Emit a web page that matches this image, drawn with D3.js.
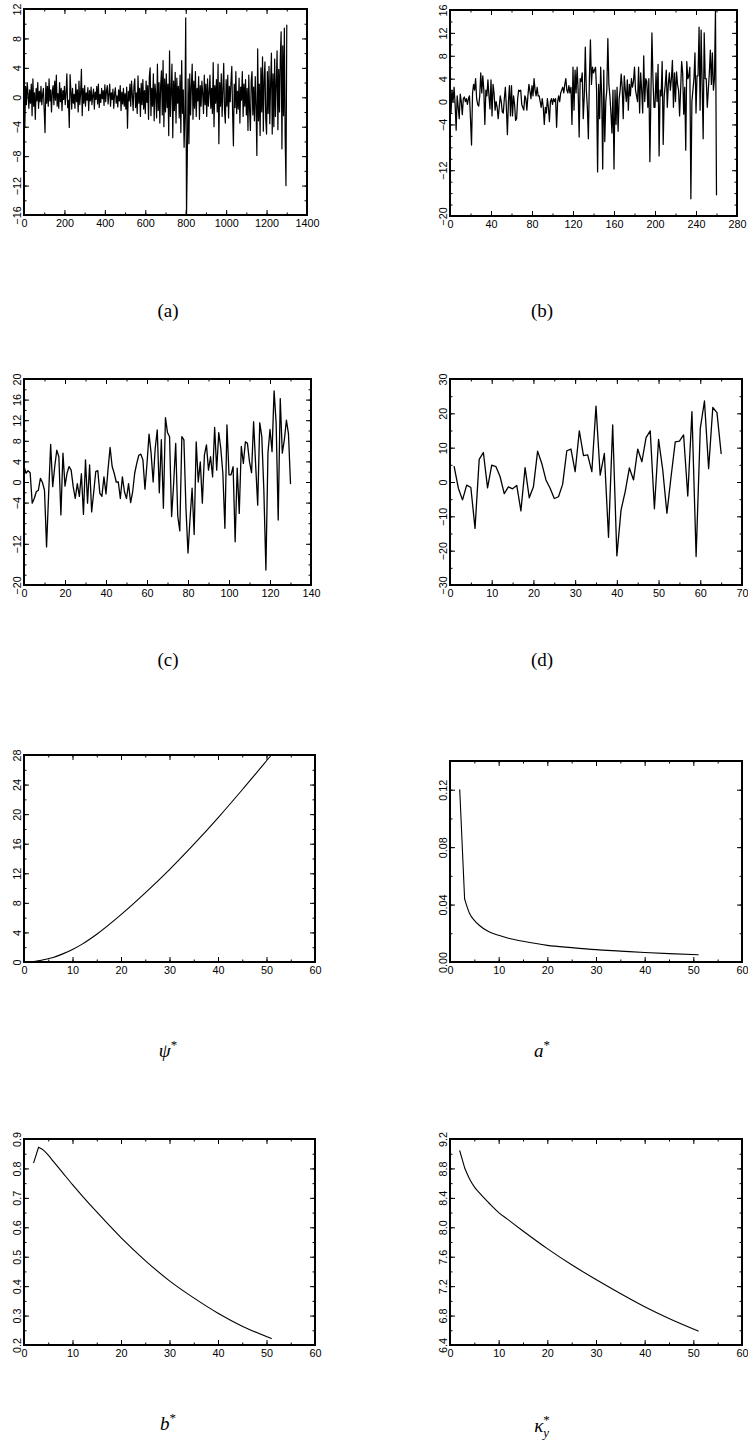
<!DOCTYPE html>
<html>
<head>
<meta charset="utf-8">
<script src="https://cdn.jsdelivr.net/npm/d3@7"></script>
<style>
  html, body { margin: 0; padding: 0; background: #fff; }
  svg { display: block; }
</style>
</head>
<body>
<script>
// ---------------- DATA ----------------
// (a) daily series, one value every 4 steps (x = 0, 4, 8, ... 1300)
const seriesA = [
  2.8,-4,1.5,-1,2,0.5,-1.5,1,-0.8,1.8,-2.5,2.5,-1.2,0.6,-3,1.2,-0.5,2,-1.5,0.8,-0.6,1.5,-1,0.4,1.2,
  -1.8,-4.8,2,-0.8,1.5,-1.2,2.5,-0.5,1,-2,0.8,1.6,-1,2.2,-0.4,3,-1.2,0.5,-1.5,2,-0.6,1.2,-1.8,0.9,-0.3,
  1.5,-1,0.6,3.2,-1.4,-0.4,-4.1,3.1,0.8,-1.6,1.2,-0.8,0.4,-1.5,1.8,-0.6,1,-2,2.2,-1,0.5,3.8,-2.5,1.2,-0.8,
  1.6,-1.2,0.6,-0.4,1.3,-1.8,0.9,-0.5,1.4,-1,0.3,1.1,-1.6,0.7,-0.3,1.5,-0.9,1.8,-1.4,0.4,-0.7,1.2,-0.2,0.9,-1.1,
  1.7,-0.6,0.8,1.6,-0.9,0.4,1.8,-1.2,0.6,-0.3,1.1,-1.5,0.5,1.3,-0.8,0.2,-1.3,1,-0.5,1.6,-1.8,0.7,-0.9,1.2,-1.2,
  0.5,-1.6,1.4,-4.2,0.8,-0.5,1.8,-1.2,2.2,0.3,-1.8,1.5,2.5,-1.4,0.6,-2.2,2.9,-0.8,1.2,-2.6,1.9,-1,2.4,-1.6,0.9,
  -2.2,2.2,-0.7,1.6,-3,2.8,4,-2.5,1.2,-1.2,3.2,-3.2,1.8,0.4,-2.8,4.5,-1.8,2,-3.5,1.6,3.6,-2.4,5,-4,2.5,
  -2,3.2,-1.4,1.8,-5.2,6.3,-2.6,0.8,4.5,-5.5,2.2,-1.8,3.4,-3.5,2.6,-0.8,1.5,-2.8,3,-4.8,5,-2.2,1,-6.8,-2.5,
  10.8,-16,-8,2.5,-6.3,3.2,-2.4,1.5,4.5,-3,2.2,-1.5,3.5,-2.6,1.2,-0.5,2.8,-3,1.6,-1.2,2.2,0.5,-2.2,3,-1,
  1.8,-2.6,2.5,-1.2,0.6,3,-1.5,1.2,-2.2,4.7,-4,1.6,-0.8,2.4,-2,4.5,-6.3,2,-1.2,3.2,-2.6,1,4.6,-1.8,-3.5,
  2.4,-1.2,3,-2.8,1.5,-0.6,2.2,4.2,-2.2,-6.6,1.8,-1.4,3.5,-2.2,0.8,-1.6,2.6,-3.5,1.4,-0.4,3.5,-2.6,1.8,-1.2,2.4,
  -2.4,1.2,-4.5,3,-1.8,-4.5,2.2,3.5,-2.4,1.4,-3.2,2.8,-1.2,-7.9,6.6,-3.2,1.8,-5.2,4,-2,5.5,-4.6,2.4,4.8,-3,
  -5,3.5,-2.2,4.2,-3.6,2,6,-5,3.2,-4,5.2,-2.6,1.8,6.3,-4.4,3.8,-2,5.5,8.9,-7,7,-2.5,9.4,-5.5,-12,
  9.8
];
const stepA = 4;

// (b) weekly series, x = 0 .. 260
const seriesB = [
  5,-2,2,0,2.5,-0.5,-5,1,-1,-3,1.3,0,-2.3,0.5,0.8,0,0.5,-0.5,0.5,1,
  -3,-7.6,1.5,3,2,4,0.5,-0.5,-0.8,1,5,1.5,4.5,2,-4,2,1,3.8,1,-1.3,
  3.8,-2.5,3,1.5,-1.5,0,-1,-3,-1,1,0,-1.8,-2,0.5,2.5,-1,-5.8,0,2.8,-2.5,
  2.8,-2.5,1,-0.5,-3.3,-3,0.5,2,1.8,2,-0.5,-1,-1.5,1,0.5,-1.5,1,3,1.8,0.5,
  2.8,1,4,2,1,2.5,1,1,0,-1,0.5,-1,-4,-1,-2,0.5,-1,-3.5,0,0.5,
  -0.5,0.5,0,0.5,-4.5,0,1,0,1.5,2,2.5,1.5,3,4,2,1.5,2.8,1.5,2.5,-4,
  6,-1.5,5.5,1.5,6,2,-6.2,4,3.5,5,-3,1,9.5,2,-1,-6.5,4,10.8,3,6,
  5,5.5,6,2,-12.3,3,-3,6,1,-11.8,5.5,-7,0,2,11,3,1,-2,-5.5,2,
  -11.8,2,-4,2.5,-5.2,0.5,2,4.8,2.5,-3,4.5,2,0,3.8,-1.5,3,1,4,2.5,3.5,
  6,2,1,0,6,-2,5,2,-2,8,0,4,3.5,-1,4,-10.5,1,12,4,-1,
  -1,5,0,6.5,-9.5,2,1,7,-7.5,1,3,5.5,-1,3,5,2,4,7.2,-1,5,
  0,5.2,3,2,-2.5,2,7,5,-2.2,2.5,-8.5,7,4,4.5,6,-17,0,2,4,8.5,
  -2,4.5,4.5,13,-1.5,12.5,3,-6.5,12,4,4,-1,2,5,9,3,8.5,2,4,16,
  -16.3
];

// (c) series, x = 0 .. 130
const seriesC = [
  3.0,1.7,2.2,1.8,-4.1,-3.2,-1.9,-1.6,0.7,-0.1,-1.6,-12.6,-2.5,7.3,-0.9,3,6.2,4.9,-6.4,5.6,
  -0.8,1.7,3,2.3,-0.9,-3.2,-0.3,-2.8,1.6,-6.3,4.3,-4.1,3.3,-5.8,-2,2,2.2,-2.2,-2.8,1,
  -2.3,2.5,6.7,3,1.7,0,0,-3.2,1,-1.9,-3.2,-0.3,-4,-1.9,1.7,3.6,5.2,5.4,4.3,-1.4,
  3.6,9.3,5.6,0,6.5,10.1,-2.1,8.2,-5.1,12.5,9.6,8.8,-6.7,-0.3,7.5,-6.6,-9.5,8.8,8.2,-5.1,
  -13.8,-7.1,-1.2,-10.2,7.8,0,3.9,-4.1,5.2,7.2,2.3,4.9,1,10.6,2.3,9.6,6.5,1.7,-9,11.1,
  1.4,1.4,3,-11.6,2.7,-6.1,6.9,3.6,7.8,7.5,3.9,1.8,11.7,3.3,-4.5,11.5,8.8,-1.6,-17.1,5.6,
  10.2,5.9,17.7,11.4,-7.4,16.2,5.6,8.2,12,9.4,-0.3
];

// (d) series, x = 1 .. 65
const seriesD = [
  4.5,-1.8,-5.2,-0.9,-1.6,-13.5,6.6,8.6,-1.7,4.9,
  4.5,1.6,-3.4,-1.4,-2.0,-1.0,-8.4,4.2,-4.6,-1.4,
  9.0,5.4,0.6,-1.8,-4.8,-4.3,-0.7,9.1,9.6,3.0,
  14.9,7.7,7.9,3.0,22.1,2.0,8.3,-16.1,16.6,-21.5,
  -8.2,-2.8,4.1,0.6,9.6,5.9,12.9,14.9,-7.8,12.4,
  3.5,-9.1,1.6,11.7,11.9,13.7,-4.1,20.5,-21.7,15.6,
  23.6,3.9,21.7,20.2,8.3
];

// optimal paths (e)-(h), sampled at these horizons
const horizon   = [2,3,4,5,6,8,10,12,15,20,25,30,35,40,45,51];
const psiStar   = [0.06,0.17,0.3,0.45,0.62,1.1,1.7,2.42,3.75,6.4,9.35,12.5,15.9,19.5,23.3,28.0];
const aStar     = [0.120,0.044,0.034,0.029,0.0256,0.021,0.0186,0.0165,0.0144,0.0116,0.0100,0.0086,0.0076,0.0066,0.0058,0.0051];
const bStar     = [0.82,0.872,0.862,0.845,0.825,0.785,0.745,0.707,0.652,0.565,0.487,0.418,0.36,0.308,0.264,0.222];
const kappaStar = [9.04,8.81,8.66,8.55,8.47,8.33,8.2,8.1,7.95,7.71,7.49,7.29,7.1,6.92,6.76,6.59];

// tick labels
const ticksAx = [0,200,400,600,800,1000,1200,1400];
const ticksAy = [-16,-12,-8,-4,0,4,8,12];
const ticksBx = [0,40,80,120,160,200,240,280];
const ticksBy = [-20,-12,-4,0,4,8,12,16];
const ticksCx = [0,20,40,60,80,100,120,140];
const ticksCy = [-20,-12,-4,0,4,8,12,16,20];
const ticksDx = [0,10,20,30,40,50,60,70];
const ticksDy = [-30,-20,-10,0,10,20,30];
const ticksEx = [0,10,20,30,40,50,60];
const ticksPsi = [0,4,8,12,16,20,24,28];
const ticksA = [0,0.04,0.08,0.12];
const ticksB = [0.2,0.3,0.4,0.5,0.6,0.7,0.8,0.9];
const ticksK = [6.4,6.8,7.2,7.6,8.0,8.4,8.8,9.2];

// ---------------- LAYOUT ----------------
const W = 748, H = 1452;
const svg = d3.select("body").append("svg").attr("width", W).attr("height", H);
svg.append("rect").attr("width", W).attr("height", H).attr("fill", "#fff");

const panels = [
  { box:[24,307,9,215], xd:[0,1400], yd:[-16,12], xt:ticksAx, yt:ticksAy, xm:100, ym:2,
    xs:seriesA.map((v,i)=>i*stepA), ys:seriesA, fmt:d3.format("d"), cap:{x:168,y:317,plain:"(a)"}, sw:1.2 },
  { box:[450,737,10,216], xd:[0,280], yd:[-20,16], xt:ticksBx, yt:ticksBy, xm:20, ym:2,
    xs:seriesB.map((v,i)=>i), ys:seriesB, fmt:d3.format("d"), cap:{x:542,y:317,plain:"(b)"}, sw:1.25 },
  { box:[24,311,379,585], xd:[0,140], yd:[-20,20], xt:ticksCx, yt:ticksCy, xm:10, ym:2,
    xs:seriesC.map((v,i)=>i), ys:seriesC, fmt:d3.format("d"), cap:{x:168,y:666,plain:"(c)"}, sw:1.3 },
  { box:[450,742,379,585], xd:[0,70], yd:[-30,30], xt:ticksDx, yt:ticksDy, xm:5, ym:5,
    xs:seriesD.map((v,i)=>i+1), ys:seriesD, fmt:d3.format("d"), cap:{x:542,y:666,plain:"(d)"}, sw:1.3 },
  { box:[24,315,755,962], xd:[0,60], yd:[0,28], xt:ticksEx, yt:ticksPsi, xm:5, ym:2,
    xs:horizon, ys:psiStar, fmt:d3.format("d"), smooth:true, cap:{x:168,y:1057,greek:"ψ"}, sw:1.1 },
  { box:[450,742,761,962], xd:[0,60], yd:[0,0.14], xt:ticksEx, yt:ticksA, xm:5, ym:0.02,
    xs:horizon, ys:aStar, fmt:d3.format(".2f"), smooth:true, cap:{x:542,y:1057,latin:"a"}, sw:1.1 },
  { box:[24,315,1139,1345], xd:[0,60], yd:[0.2,0.9], xt:ticksEx, yt:ticksB, xm:5, ym:0.05,
    xs:horizon, ys:bStar, fmt:d3.format(".1f"), smooth:true, cap:{x:168,y:1430,latin:"b"}, sw:1.1 },
  { box:[450,742,1139,1345], xd:[0,60], yd:[6.4,9.2], xt:ticksEx, yt:ticksK, xm:5, ym:0.2,
    xs:horizon, ys:kappaStar, fmt:d3.format(".1f"), smooth:true, cap:{x:542,y:1432,greek:"κ", sub:"y"}, sw:1.1 },
];

const tickFont = "'Liberation Sans', Arial, Helvetica, sans-serif";
const capFont = "'Liberation Serif', 'DejaVu Serif', 'Times New Roman', serif";

panels.forEach((p, pi) => {
  const [L, R, T, B] = p.box;
  const x = d3.scaleLinear().domain(p.xd).range([L, R]);
  const y = d3.scaleLinear().domain(p.yd).range([B, T]);
  const g = svg.append("g");

  const xMinor = d3.range(p.xd[0], p.xd[1] + 1e-9, p.xm);
  const yMinor = d3.range(p.yd[0], p.yd[1] + p.ym * 1e-6, p.ym).map(v => +v.toFixed(6));

  const styleAxis = sel => {
    sel.select(".domain").remove();
    sel.selectAll(".tick line").attr("stroke", "#000").attr("stroke-width", 1);
    sel.selectAll("text").attr("font-family", tickFont).attr("font-size", "10.8px").attr("fill", "#000");
  };

  // minor ticks (all four sides)
  g.append("g").attr("transform", `translate(0,${B})`)
    .call(d3.axisBottom(x).tickValues(xMinor).tickSize(-2.5).tickFormat("")).call(styleAxis);
  g.append("g").attr("transform", `translate(0,${T})`)
    .call(d3.axisTop(x).tickValues(xMinor).tickSize(-2.5).tickFormat("")).call(styleAxis);
  g.append("g").attr("transform", `translate(${L},0)`)
    .call(d3.axisLeft(y).tickValues(yMinor).tickSize(-2.5).tickFormat("")).call(styleAxis);
  g.append("g").attr("transform", `translate(${R},0)`)
    .call(d3.axisRight(y).tickValues(yMinor).tickSize(-2.5).tickFormat("")).call(styleAxis);

  // major ticks
  g.append("g").attr("transform", `translate(0,${B})`)
    .call(d3.axisBottom(x).tickValues(p.xt).tickSize(-5).tickPadding(4).tickFormat(d3.format("d")))
    .call(styleAxis);
  g.append("g").attr("transform", `translate(0,${T})`)
    .call(d3.axisTop(x).tickValues(p.xt).tickSize(-5).tickFormat("")).call(styleAxis);
  const yAx = g.append("g").attr("transform", `translate(${L},0)`)
    .call(d3.axisLeft(y).tickValues(p.yt).tickSize(-5).tickFormat(p.fmt)).call(styleAxis);
  yAx.selectAll(".tick text")
    .attr("x", null).attr("dy", null).attr("y", null)
    .attr("text-anchor", "middle")
    .attr("transform", "translate(-3,0) rotate(-90)");
  g.append("g").attr("transform", `translate(${R},0)`)
    .call(d3.axisRight(y).tickValues(p.yt).tickSize(-5).tickFormat("")).call(styleAxis);

  // data
  const clipId = "clip" + pi;
  svg.append("clipPath").attr("id", clipId).append("rect")
    .attr("x", L).attr("y", T - 1).attr("width", R - L).attr("height", B - T + 2);
  const data = p.ys.map((v, i) => [p.xs[i], v]);
  const lineLin = d3.line().x(d => x(d[0])).y(d => y(d[1])).curve(d3.curveLinear);
  const lineSm = d3.line().x(d => x(d[0])).y(d => y(d[1])).curve(d3.curveMonotoneX);
  const addPath = (d, gen) => g.append("path").datum(d)
    .attr("clip-path", `url(#${clipId})`)
    .attr("fill", "none").attr("stroke", "#000")
    .attr("stroke-width", p.sw).attr("stroke-linejoin", "round").attr("stroke-linecap", "round")
    .attr("d", gen);
  if (p.smooth) {
    // first step is a straight segment, the rest a smooth path
    addPath(data.slice(0, 2), lineLin);
    addPath(data.slice(1), lineSm);
  } else {
    addPath(data, lineLin);
  }

  // frame
  g.append("rect").attr("x", L).attr("y", T).attr("width", R - L).attr("height", B - T)
    .attr("fill", "none").attr("stroke", "#000").attr("stroke-width", 2);

  // caption
  const c = p.cap;
  const t = svg.append("text").attr("x", c.x).attr("y", c.y)
    .attr("font-family", capFont).attr("font-size", "19px").attr("text-anchor", "middle");
  if (c.plain) {
    t.text(c.plain);
  } else {
    t.append("tspan").attr("font-style", "italic").text(c.greek || c.latin);
    t.append("tspan").attr("font-size", "13px").attr("dy", -8).text("*");
    if (c.sub) {
      t.append("tspan").attr("font-size", "13px").attr("font-style", "italic")
        .attr("dx", -6.5).attr("dy", 13).text(c.sub);
    }
  }
});
</script>
</body>
</html>
